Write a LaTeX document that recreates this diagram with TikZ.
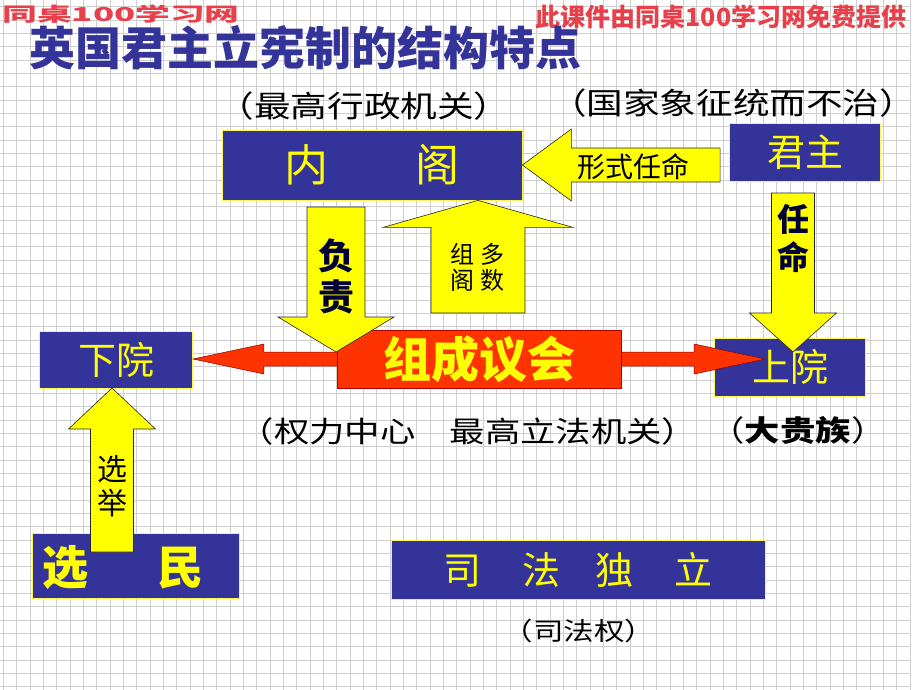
\documentclass[tikz,border=0pt]{standalone}
\usepackage{fontspec}
\setmainfont{Noto Sans CJK SC}
\usetikzlibrary{calc}
\definecolor{boxblue}{HTML}{333399}
\definecolor{txtyellow}{HTML}{FFFF00}
\definecolor{hired}{HTML}{FF3300}
\definecolor{logored}{HTML}{E8404A}
\definecolor{labelnavy}{HTML}{000033}
\newcommand{\fsz}[2]{\fontsize{#1}{#2}\selectfont}
\newcommand{\widetxt}[1]{\scalebox{1.22}[1]{#1}}
% block arrow: [style]{start}{tip}{half body}{half head}{head length}
\newcommand{\blockarrow}[6][yarrow]{%
  \coordinate (ba-h) at ($(#3)!#6!(#2)$);
  \filldraw[#1] ($(#2)!#4!90:(#3)$) -- ($(ba-h)!#4!90:(#3)$) -- ($(ba-h)!#5!90:(#3)$) -- (#3)
    -- ($(ba-h)!#5!-90:(#3)$) -- ($(ba-h)!#4!-90:(#3)$) -- ($(#2)!#4!-90:(#3)$) -- cycle;}
\begin{document}
\begin{tikzpicture}[x=1pt,y=-1pt, line join=miter,
  gridline/.style={gray!38, line width=0.8pt},
  bluebox/.style={draw=yellow!70!white, line width=0.8pt, fill=boxblue, text=txtyellow, inner sep=0pt},
  yarrow/.style={fill=txtyellow, draw=black!85, line width=0.6pt},
  rarrow/.style={fill=hired, draw=red!55!black, line width=0.5pt},
  note/.style={inner sep=0pt, text=black}]
\fill[white] (0,0) rectangle (920,690);
\useasboundingbox (0,0) rectangle (920,690);
\foreach \i in {0,...,68} \draw[gridline] ({3.33+13.333*\i},0) -- ({3.33+13.333*\i},690);
\foreach \j in {0,...,51} \draw[gridline] (0,{6.67+13.333*\j}) -- (910,{6.67+13.333*\j});

\node[note, text=logored, font=\fsz{24}{24}\bfseries] (logo) at (121,14) {\scalebox{1.45}[0.8]{同桌100学习网}};
\node[note, text=logored, font=\fsz{25}{25}\bfseries] (tigong) at (721,17) {此课件由同桌100学习网免费提供};
\node[note, text=boxblue, font=\fsz{46}{46}\bfseries] (title) at (305,48) {英国君主立宪制的结构特点};

\node[note, font=\fsz{30}{30}] (xingzheng) at (364,106) {\widetxt{（最高行政机关）}};
\node[note, font=\fsz{30}{30}] (xiangzheng) at (733,103) {\widetxt{（国家象征统而不治）}};
\node[note, font=\fsz{29}{29}] (lifa) at (468,431) {\widetxt{（权力中心\hspace{28pt}最高立法机关）}};
\node[note, font=\fsz{29}{29}] (guizu) at (798,430) {\widetxt{（\textbf{大贵族}）}};
\node[note, font=\fsz{25}{25}] (sifaquan) at (579,631) {\widetxt{（司法权）}};

\node[bluebox, minimum width=300pt, minimum height=70pt, font=\fsz{44}{44}] (neige) at (372,165) {内\hspace{87pt}阁};
\node[bluebox, minimum width=151pt, minimum height=58pt, font=\fsz{38}{38}] (junzhu) at (805,152) {君主};
\node[bluebox, minimum width=153pt, minimum height=57pt, font=\fsz{38}{38}] (xiayuan) at (116,360) {下院};
\node[bluebox, minimum width=151pt, minimum height=58pt, font=\fsz{38}{38}] (shangyuan) at (790,367) {上院};
\node[bluebox, minimum width=207pt, minimum height=65pt] (xuanmin) at (136,566) {};
\node[note, text=txtyellow, font=\fsz{46}{46}\bfseries] (xuanmintxt) at (123,568) {选\hspace{70pt}民};
\node[bluebox, minimum width=374pt, minimum height=59pt, font=\fsz{38}{38}] (sifa) at (578,570) {司\hspace{42pt}法\hspace{34pt}独\hspace{42pt}立};

\coordinate (hui-c) at (479,359);
\coordinate (sy-t) at ($(shangyuan.west |- hui-c)+(51,0)$);
\blockarrow[rarrow]{hui-c}{xiayuan.east |- hui-c}{7pt}{15pt}{71pt}
\blockarrow[rarrow]{hui-c}{sy-t}{7pt}{15pt}{71pt}
\node[minimum width=284pt, minimum height=58pt, fill=hired, draw=red!70!black, line width=0.6pt, text=txtyellow, font=\fsz{48}{48}\bfseries, inner sep=0pt] (yihui) at (hui-c) {组成议会};

\coordinate (xs-s) at ($(junzhu.west)+(-9,13)$);
\blockarrow{xs-s}{neige.east}{17pt}{36pt}{49pt}
\node[note, font=\fsz{28}{28}] (xingshi) at (633,167) {形式任命};

\coordinate (fz-s) at (336,207);
\coordinate (fz-t) at (336,352);
\blockarrow{fz-s}{fz-t}{29pt}{58pt}{35pt}
\node[note, text=labelnavy, align=center, font=\fsz{36}{41}\bfseries] (fuze) at (336,276) {负\\责};

\coordinate (zg-s) at (478,313);
\coordinate (zg-t) at (neige.south -| zg-s);
\blockarrow{zg-s}{zg-t}{47pt}{95pt}{27pt}
\node[note, align=center, font=\fsz{24}{26}] (zuge) at (477,267) {组\hspace{6pt}多\\阁\hspace{6pt}数};

\coordinate (rm-s) at (793,193);
\coordinate (rm-t) at (793,352);
\blockarrow{rm-s}{rm-t}{21.5pt}{43.5pt}{39pt}
\node[note, text=labelnavy, align=center, font=\fsz{32}{38}\bfseries] (renming) at (793,238) {任\\命};

\coordinate (xj-s) at (112,552);
\coordinate (xj-t) at (112,388);
\blockarrow{xj-s}{xj-t}{21.5pt}{43.5pt}{41pt}
\node[note, align=center, font=\fsz{30}{34}] (xuanju) at (112,486) {选\\举};
\end{tikzpicture}
\end{document}
